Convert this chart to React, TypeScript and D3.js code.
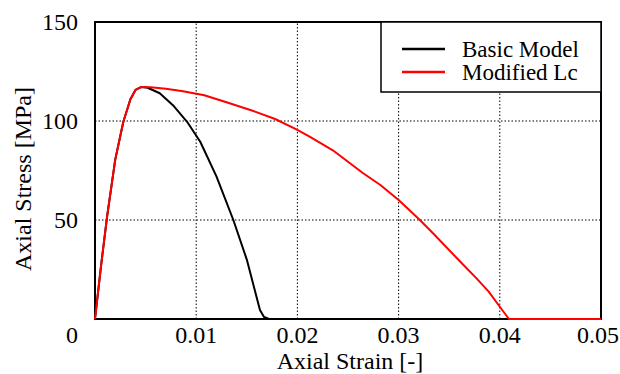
import React from 'react';
import * as d3 from 'd3';

// Basic Model
const basicStrain = [0, 0.0006, 0.0012, 0.002, 0.0028, 0.0035, 0.004, 0.0046, 0.0052, 0.0064, 0.0077, 0.0091, 0.0104, 0.012, 0.01367, 0.015, 0.0163, 0.0167, 0.0172, 0.05];
const basicStress = [0, 27, 52, 80.5, 99.6, 111, 115.7, 117.2, 116.8, 114, 108, 99.6, 89.5, 72, 50, 30, 4.5, 1, 0, 0];

// Modified Lc
const modStrain = [0, 0.0006, 0.0012, 0.002, 0.0028, 0.0035, 0.004, 0.0046, 0.0055, 0.007, 0.0087, 0.0108, 0.0133, 0.0155, 0.0178, 0.0199, 0.02125, 0.0235, 0.0265, 0.0282, 0.03, 0.032, 0.0334, 0.0361, 0.0377, 0.0389, 0.04, 0.0409, 0.05];
const modStress = [0, 27, 52, 80.5, 99.6, 111, 115.7, 117.2, 117, 116.3, 115, 113, 109, 105.3, 101, 95.8, 92, 85.2, 73.6, 67.7, 60.1, 50.5, 43.3, 28.9, 20.5, 13.8, 6.2, 0, 0];

const xTicks = [0.01, 0.02, 0.03, 0.04, 0.05];
const yTicks = [50, 100, 150];
const xGrid = [0.01, 0.02, 0.03, 0.04];
const yGrid = [50, 100];

const seriesNames = ['Basic Model', 'Modified Lc'];
const seriesColors = ['#000000', '#ff0000'];

const W = 620;
const H = 374;
const FONT = '"Liberation Serif", "Times New Roman", serif';
const FS = 24;

export default function App() {
  const x = d3.scaleLinear().domain([0, 0.05]).range([95, 601]);
  const y = d3.scaleLinear().domain([0, 150]).range([319, 22]);

  const line = d3.line<[number, number]>()
    .x(d => x(d[0]))
    .y(d => y(d[1]));

  const basic = basicStrain.map((s, i) => [s, basicStress[i]] as [number, number]);
  const mod = modStrain.map((s, i) => [s, modStress[i]] as [number, number]);

  return (
    <>
      <style>{'body{margin:0}'}</style>
      <svg width={W} height={H} style={{ display: 'block', fontFamily: FONT }}>
        <rect width={W} height={H} fill="#fff" />

        {/* grid */}
        {xGrid.map(t => (
          <line key={'gx' + t} x1={x(t)} x2={x(t)} y1={y(0)} y2={y(150)}
            stroke="#000" strokeWidth={1} strokeDasharray="1.5,2" />
        ))}
        {yGrid.map(t => (
          <line key={'gy' + t} x1={x(0)} x2={x(0.05)} y1={y(t)} y2={y(t)}
            stroke="#000" strokeWidth={1} strokeDasharray="1.5,2" />
        ))}

        {/* frame (under the curves, so the red tail shows on the axis) */}
        <rect x={x(0)} y={y(150)} width={x(0.05) - x(0)} height={y(0) - y(150)}
          fill="none" stroke="#000" strokeWidth={2} />

        {/* curves */}
        <path d={line(basic) ?? ''} fill="none" stroke={seriesColors[0]} strokeWidth={2} strokeLinejoin="round" />
        <path d={line(mod) ?? ''} fill="none" stroke={seriesColors[1]} strokeWidth={2} strokeLinejoin="round" />

        {/* legend */}
        <rect x={381} y={y(150)} width={x(0.05) - 381} height={70} fill="#fff" stroke="#000" strokeWidth={1.5} />
        {seriesNames.map((n, i) => (
          <g key={n}>
            <line x1={402} x2={445} y1={49 + i * 23} y2={49 + i * 23} stroke={seriesColors[i]} strokeWidth={2.5} />
            <text x={462} y={49 + i * 23} dy="0.33em" fontSize={23}>{n}</text>
          </g>
        ))}

        {/* tick labels */}
        {xTicks.map((t, i) => {
          const last = i === xTicks.length - 1;
          return (
            <text key={'tx' + t} x={last ? W - 1 : x(t)} y={343}
              textAnchor={last ? 'end' : 'middle'} fontSize={FS}>{t}</text>
          );
        })}
        {yTicks.map(t => (
          <text key={'ty' + t} x={78} y={y(t)} dy="0.33em" textAnchor="end" fontSize={FS}>{t}</text>
        ))}
        <text x={72} y={343} textAnchor="middle" fontSize={FS}>0</text>

        {/* axis titles */}
        <text x={350} y={369} textAnchor="middle" fontSize={FS}>Axial Strain [-]</text>
        <text transform={`translate(31,179) rotate(-90)`} textAnchor="middle" fontSize={FS}>Axial Stress [MPa]</text>
      </svg>
    </>
  );
}
